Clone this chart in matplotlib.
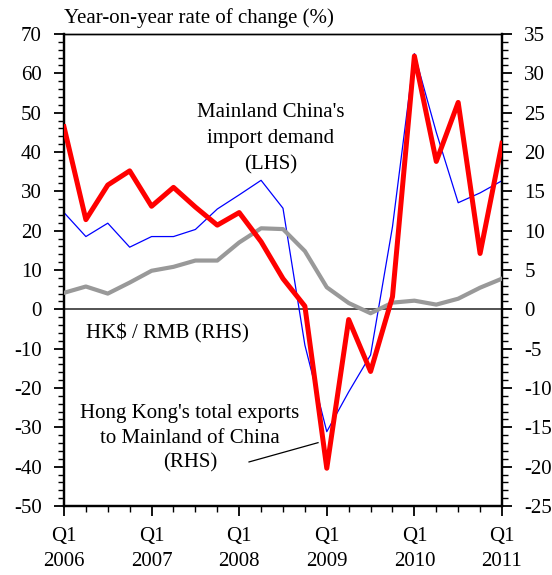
## Import Required Libraries
import matplotlib.pyplot as plt
from matplotlib.ticker import MultipleLocator

# Quarter labels (Q1 2006 .. Q1 2011)
quarters = ["Q1 2006", "Q2 2006", "Q3 2006", "Q4 2006",
            "Q1 2007", "Q2 2007", "Q3 2007", "Q4 2007",
            "Q1 2008", "Q2 2008", "Q3 2008", "Q4 2008",
            "Q1 2009", "Q2 2009", "Q3 2009", "Q4 2009",
            "Q1 2010", "Q2 2010", "Q3 2010", "Q4 2010",
            "Q1 2011"]
year_labels = ["Q1\n2006", "Q1\n2007", "Q1\n2008", "Q1\n2009", "Q1\n2010", "Q1\n2011"]

# Mainland China's import demand (LHS, %)
import_demand = [24.6, 18.5, 21.9, 15.8, 18.5, 18.5, 20.3, 25.5, 29.1, 32.8, 25.7,
                 -9.1, -31.1, -21.0, -11.6, 21.0, 65.0, 45.0, 27.1, 29.6, 32.7]

# Hong Kong's total exports to Mainland of China (RHS, %)
hk_exports = [23.2, 11.4, 15.8, 17.6, 13.1, 15.5, 13.0, 10.7, 12.3, 8.6, 3.9,
              0.4, -20.2, -1.3, -7.9, 1.6, 32.2, 18.8, 26.3, 7.1, 21.1]

# HK$ / RMB (RHS, %)
hkd_rmb = [2.1, 2.9, 2.0, 3.4, 4.9, 5.4, 6.2, 6.2, 8.5, 10.3, 10.2,
           7.4, 2.8, 0.8, -0.5, 0.85, 1.1, 0.6, 1.35, 2.75, 3.9]

x = list(range(len(quarters)))

# Fonts
plt.rcParams["font.family"] = ["Liberation Serif", "DejaVu Serif"]
plt.rcParams["font.size"] = 15
plt.rcParams["axes.unicode_minus"] = False

# Create Figure
fig = plt.figure(figsize=(5.52, 5.75), dpi=100)
ax = fig.add_axes([0.1159, 0.12, 0.7935, 0.8209])
ax2 = ax.twinx()

# Draw lines
ax.plot(x, import_demand, color="#0000ff", linewidth=0.9, zorder=3)
ax2.plot(x, hkd_rmb, color="#999999", linewidth=3.0, zorder=3)
ax2.plot(x, hk_exports, color="#ff0000", linewidth=3.6, zorder=4)

# Zero line
ax.axhline(0, color="#444444", linewidth=1.3, zorder=2)

# Axis limits
ax.set_xlim(0, 20)
ax.set_ylim(-50, 70)
ax2.set_ylim(-25, 35)

# Ticks
ax.set_xticks(range(0, 21, 4))
ax.set_xticklabels(year_labels, linespacing=1.45)
ax.xaxis.set_minor_locator(MultipleLocator(1))

ax.yaxis.set_major_locator(MultipleLocator(10))
ax.yaxis.set_minor_locator(MultipleLocator(2))
ax2.yaxis.set_major_locator(MultipleLocator(5))
ax2.yaxis.set_minor_locator(MultipleLocator(1))

ax.tick_params(axis="both", which="major", direction="out", length=7, width=1.3, pad=9)
ax.tick_params(axis="both", which="minor", direction="out", length=4, width=1.0)
ax.tick_params(axis="x", which="major", pad=8)
ax2.tick_params(axis="y", which="major", direction="out", length=7, width=1.3, pad=9)
ax2.tick_params(axis="y", which="minor", direction="out", length=4, width=1.0)

# Spines
for a in (ax, ax2):
    for side in ("left", "right", "bottom"):
        a.spines[side].set_linewidth(1.6)
    a.spines["top"].set_linewidth(1.0)

# Title text above the plot
fig.text(64 / 552, 1 - 18 / 575, "Year-on-year rate of change (%)",
         ha="left", va="center", fontsize=15)

# Annotations
ax.text(9.45, 43.3, "Mainland China's\nimport demand\n(LHS)",
        ha="center", va="center", linespacing=1.5, fontsize=15)
ax.text(1.0, -6.2, "HK$ / RMB (RHS)", ha="left", va="center", fontsize=15)
ax.text(5.75, -32.8, "Hong Kong's total exports\nto Mainland of China\n(RHS)",
        ha="center", va="center", linespacing=1.4, fontsize=15)
ax.plot([8.45, 11.6], [-38.8, -33.9], color="black", linewidth=0.9, zorder=5)

# Save Chart
plt.savefig("out.png", dpi=100)
